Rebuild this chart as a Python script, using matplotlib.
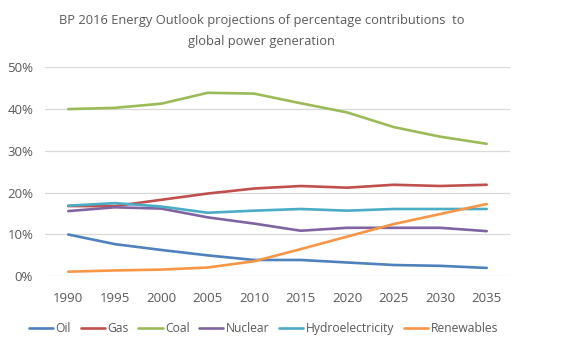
import numpy as np
import matplotlib.pyplot as plt
from matplotlib.ticker import FuncFormatter

# Dados
anos = ['1990', '1995', '2000', '2005', '2010', '2015', '2020', '2025', '2030', '2035']
oil = [10.0, 7.7, 6.3, 5.0, 3.9, 3.9, 3.3, 2.7, 2.5, 2.0]
gas = [16.8, 16.8, 18.3, 19.8, 21.0, 21.6, 21.2, 21.9, 21.6, 21.9]
coal = [40.0, 40.3, 41.3, 43.9, 43.7, 41.4, 39.2, 35.7, 33.4, 31.7]
nuclear = [15.6, 16.5, 16.2, 14.1, 12.6, 10.9, 11.6, 11.6, 11.6, 10.8]
hydro = [16.9, 17.5, 16.7, 15.2, 15.7, 16.1, 15.7, 16.1, 16.1, 16.1]
renewables = [1.1, 1.4, 1.6, 2.1, 3.6, 6.5, 9.5, 12.5, 14.9, 17.3]

nomes = ['Oil', 'Gas', 'Coal', 'Nuclear', 'Hydroelectricity', 'Renewables']
series = [oil, gas, coal, nuclear, hydro, renewables]
cores = ['#4F81BD', '#C0504D', '#9BBB59', '#8064A2', '#4BACC6', '#F79646']

plt.rcParams['font.family'] = ['Open Sans', 'DejaVu Sans']
cinza = '#595959'

fig = plt.figure(figsize=(5.66, 3.59), dpi=100)
ax = fig.add_axes([0.0795, 0.2304, 0.8215, 0.5821])

x = np.arange(len(anos))
for nome, s, c in zip(nomes, series, cores):
    ax.plot(x, np.array(s) / 100, color=c, lw=1.9, label=nome, solid_capstyle='round')

ax.set_xlim(-0.5, len(anos) - 0.5)
ax.set_ylim(0, 0.5)
ax.set_yticks(np.arange(0, 0.51, 0.1))
ax.yaxis.set_major_formatter(FuncFormatter(lambda v, p: f'{v*100:.0f}%'))
ax.set_xticks(x)
ax.set_xticklabels(anos)
ax.grid(axis='y', color='#D9D9D9', lw=0.9)
ax.set_axisbelow(True)
for sp in ax.spines.values():
    sp.set_visible(False)
ax.tick_params(length=0, labelsize=9.5, colors=cinza)
ax.tick_params(axis='x', pad=11)
ax.tick_params(axis='y', pad=8.5)

fig.text(0.4625, 0.96, 'BP 2016 Energy Outlook projections of percentage contributions  to\nglobal power generation',
         ha='center', va='top', fontsize=9.3, color=cinza, linespacing=1.75)

ax.legend(loc='center', bbox_to_anchor=(0.47, -0.25), ncol=6, frameon=False,
          fontsize=8.7, labelcolor=cinza, handlelength=2.0, handletextpad=0.2,
          columnspacing=0.8)

fig.savefig('out.png', dpi=100)
